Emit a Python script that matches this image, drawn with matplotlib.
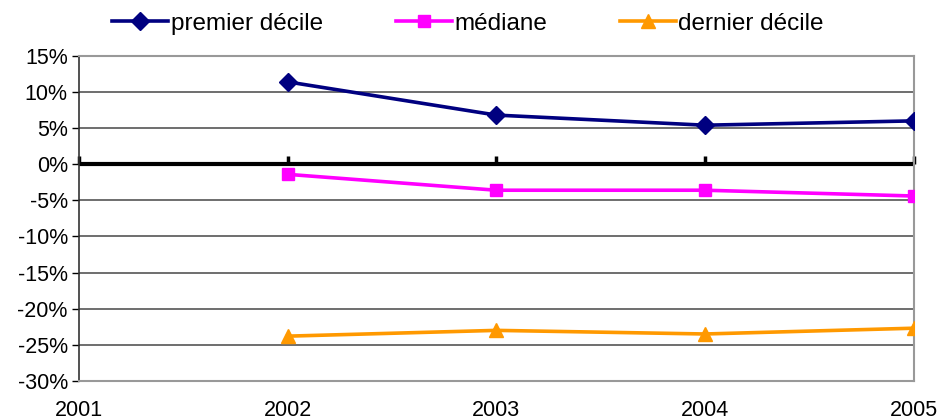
import numpy as np
import matplotlib.pyplot as plt
from matplotlib.ticker import FuncFormatter

plt.rcParams['font.family'] = ['Liberation Sans', 'DejaVu Sans']

years = [2002, 2003, 2004, 2005]
premier = [11.4, 6.8, 5.4, 6.0]
mediane = [-1.4, -3.6, -3.6, -4.4]
dernier = [-23.8, -23.0, -23.5, -22.7]

fig = plt.figure(figsize=(9.4, 4.2), dpi=100)
ax = fig.add_axes([0.084, 0.093, 0.888, 0.774])

ax.set_xlim(2001, 2005)
ax.set_ylim(-30, 15)
ax.set_yticks(np.arange(-30, 16, 5))
ax.yaxis.set_major_formatter(FuncFormatter(lambda v, p: f'{v:.0f}%'))
ax.grid(axis='y', color='#555555', linewidth=1.2)
ax.set_axisbelow(True)
ax.axhline(0, color='black', linewidth=3, zorder=2)

ax.plot(years, premier, color='#000080', lw=2.6, marker='D', ms=9, label='premier décile', zorder=3)
ax.plot(years, mediane, color='#ff00ff', lw=2.6, marker='s', ms=9, label='médiane', zorder=3)
ax.plot(years, dernier, color='#ff9900', lw=2.6, marker='^', ms=10, label='dernier décile', zorder=3)

# x ticks: labels at the bottom, tick marks on the zero line
ax.set_xticks([2001, 2002, 2003, 2004, 2005])
ax.tick_params(axis='x', length=0, pad=14, labelsize=15.5)
ax.tick_params(axis='y', length=5, width=1, labelsize=15.5, pad=3)
sec = ax.secondary_xaxis(30 / 45)
sec.set_xticks([2001, 2002, 2003, 2004, 2005])
sec.tick_params(axis='x', direction='out', length=6, width=2.5, labelbottom=False, labeltop=False)
sec.spines['bottom'].set_visible(False)
sec.spines['top'].set_visible(False)

for s in ['top', 'right', 'bottom']:
    ax.spines[s].set_color('#999999')
    ax.spines[s].set_linewidth(1.5)
ax.spines['left'].set_color('#333333')
ax.spines['left'].set_linewidth(1.2)

fig.legend(loc='center', bbox_to_anchor=(0.498, 0.943), ncol=3, frameon=False,
           fontsize=17.5, handlelength=2.3, handletextpad=0.1, columnspacing=3.0)

plt.savefig('out.png', dpi=100)
